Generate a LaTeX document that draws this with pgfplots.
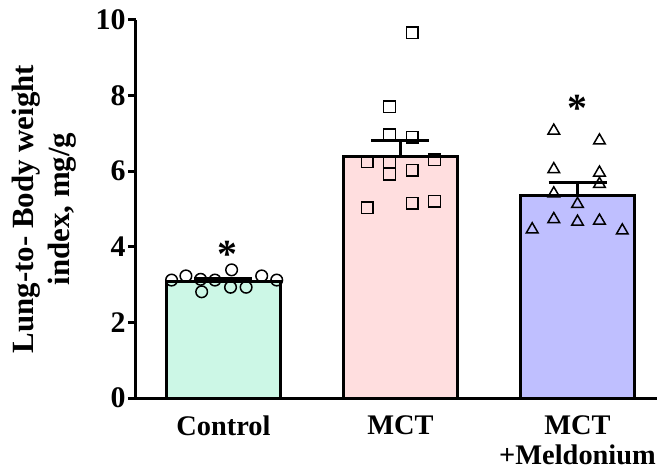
\documentclass[border=0pt]{standalone}
\usepackage{fontspec}
\setmainfont{Liberation Serif}
\usepackage{pgfplots}
\pgfplotsset{compat=1.18}
\definecolor{cmint}{HTML}{CCF7E6}
\definecolor{cpink}{HTML}{FFDEDF}
\definecolor{clav}{HTML}{BFBFFF}
\begin{document}
\begin{tikzpicture}
\begin{axis}[
  at={(0,0)}, anchor=south west,
  scale only axis, width=521bp, height=378bp,
  xmin=-0.494, xmax=2.449, ymin=0, ymax=10,
  axis x line=bottom, axis y line=left,
  axis line style={-, line width=3bp},
  ytick={0,2,4,6,8,10},
  xtick={0,1,2},
  xticklabels={Control, MCT, {MCT\\+Meldonium}},
  xticklabel style={align=center, font=\fontsize{28.5}{30}\selectfont\bfseries, yshift=-6bp},
  x tick style={draw=none},
  y tick style={line width=3bp, black},
  tick align=outside, major tick length=8bp,
  /pgf/number format/assume math mode=true,
  yticklabel style={font=\fontsize{30}{30}\selectfont\bfseries, xshift=1bp},
  ylabel={Lung-to- Body weight\\index, mg/g},
  ylabel style={align=center, font=\fontsize{31}{37}\selectfont\bfseries, yshift=12bp},
  clip=false,
]
\addplot[ybar, bar width=0.64, fill=cmint, draw=black, line width=3bp] coordinates {(0,3.08)};
\addplot[ybar, bar width=0.64, fill=cpink, draw=black, line width=3bp] coordinates {(1,6.40)};
\addplot[ybar, bar width=0.64, fill=clav, draw=black, line width=3bp] coordinates {(2,5.37)};
\addplot[draw=none, mark=none, error bars/.cd, y dir=plus, y explicit,
  error mark=|,
  error bar style={line width=3bp, black},
  error mark options={mark size=29bp, line width=3bp, black}]
  coordinates {(0,3.08) +- (0,0.07) (1,6.40) +- (0,0.42) (2,5.37) +- (0,0.34)};
\addplot[only marks, mark=o, mark size=5.8bp, mark options={line width=1.5bp, black}] coordinates {
(-0.293,3.12) (-0.212,3.23) (-0.129,3.14) (-0.123,2.81) (-0.048,3.12)
(0.046,3.39) (0.040,2.93) (0.128,2.93) (0.216,3.23) (0.301,3.12)};
\addplot[only marks, mark=square, mark size=5.8bp, mark options={line width=1.5bp, black}] coordinates {
(1.066,9.66) (0.938,7.71) (0.938,6.96) (1.066,6.90) (0.812,6.25) (0.938,6.25)
(1.192,6.30) (0.938,5.92) (1.066,6.03) (0.812,5.03) (1.066,5.15) (1.192,5.21)};
\addplot[only marks, mark=triangle, mark size=6.7bp, mark options={line width=1.5bp, black}] coordinates {
(1.866,7.07) (2.124,6.81) (1.866,6.05) (2.124,5.96) (2.124,5.66) (1.866,5.41)
(2.0,5.13) (1.866,4.73) (2.0,4.66) (2.124,4.69) (1.744,4.46) (2.253,4.43)};
\node[font=\fontsize{40}{40}\selectfont\bfseries] at (axis cs:0.02,3.8) {*};
\node[font=\fontsize{40}{40}\selectfont\bfseries] at (axis cs:2.0,7.65) {*};
\end{axis}
\pgfresetboundingbox
\path[use as bounding box] (-136bp,-74bp) rectangle (521bp,398bp);
\end{tikzpicture}
\end{document}
